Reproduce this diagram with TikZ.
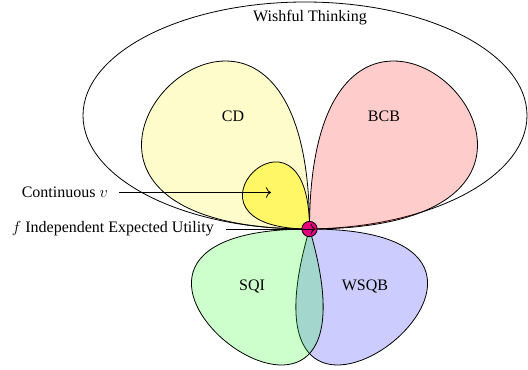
\documentclass[tikz,border=0pt]{standalone}
\usepackage{fontspec}
\setmainfont{Liberation Serif}
\usetikzlibrary{arrows.meta}
\begin{document}
\begin{tikzpicture}[x=0.75pt,y=-0.75pt,
  every node/.style={font=\fontsize{12}{14}\selectfont, inner sep=0pt},
  petal/.style={draw=black, line width=0.6pt, fill opacity=0.2},
  marker/.style={circle, draw=black, line width=0.6pt, fill=eumag, minimum size=11.5pt, inner sep=0pt},
  pointer/.style={-{To[scale=1.3]}, line width=0.6pt}]
\definecolor{eumag}{RGB}{230,0,126}
\useasboundingbox (0,0) rectangle (528,370);

% common tip of all petals
\coordinate (P) at (309.5,229);

% outer region
\draw[line width=0.6pt] (305,115.5) ellipse [x radius=222, y radius=113.5];
\node (wt) at (310,18) {Wishful Thinking};

% upper petals
\path[petal, fill=yellow] (P) .. controls +(-378,0) and +(0,-378) .. (P);
\path[petal, fill=red] (P) .. controls +(378,0) and +(0,-378) .. (P);
\path[petal, fill=yellow, fill opacity=0.5] (P) .. controls +(-151,0) and +(0,-151) .. (P);

% lower petals
\path[petal, fill=blue] (P) .. controls +(306,0) and +(-90,306) .. (P);
\path[petal, fill=green] (P) .. controls +(-306,0) and +(90,306) .. (P);

\node (cd) at (233,116) {CD};
\node (bcb) at (384,116) {BCB};
\node (sqi) at (252,287) {SQI};
\node (wsqb) at (365,287) {WSQB};

% marker at the common tip
\node[marker] (eu) at (P) {};

% side labels with pointers
\node[anchor=east] (cvlabel) at (108,192.5) {Continuous $v$};
\coordinate (cvtip) at (271,192.5);
\draw[pointer] ([xshift=8.5pt]cvlabel.east) -- (cvtip);

\node[anchor=east] (eulabel) at (214,229) {$f$ Independent Expected Utility};
\draw[pointer, shorten >=1.5pt] ([xshift=9pt]eulabel.east) -- (eu.east);
\end{tikzpicture}
\end{document}
